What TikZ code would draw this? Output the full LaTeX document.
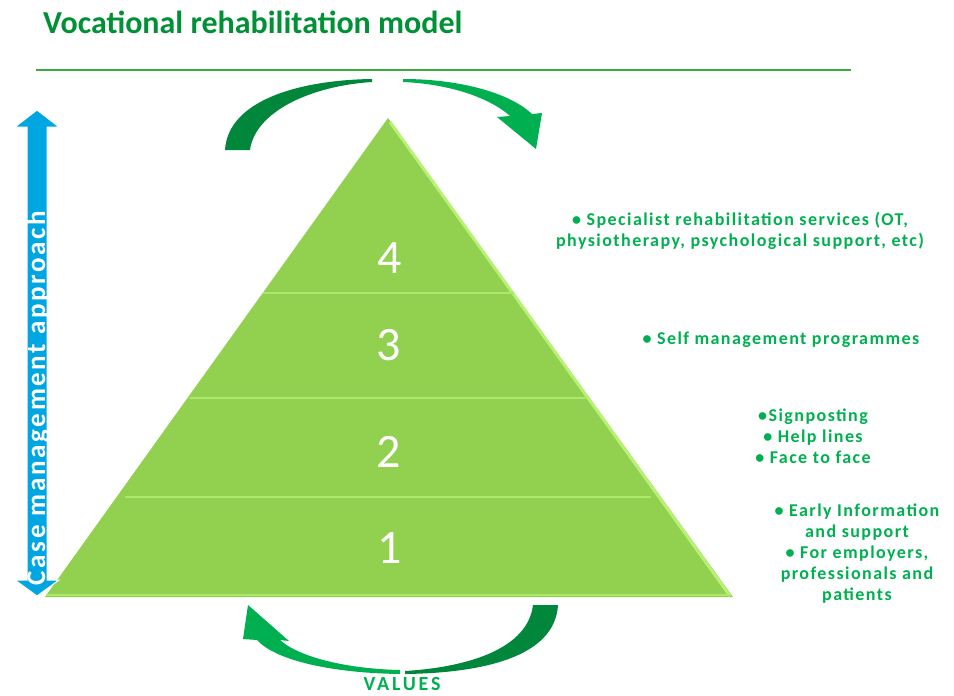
\documentclass[tikz,border=0pt]{standalone}
\usepackage{fontspec}
\setmainfont{Carlito}
\newfontfamily\notefont[LetterSpace=8]{Carlito}
\newfontfamily\casefont[LetterSpace=10]{Carlito}
\newfontfamily\valfont[LetterSpace=14]{Carlito}
\usepackage{tikz}
\usetikzlibrary{calc}
\definecolor{titlegreen}{RGB}{0,145,55}
\definecolor{rulegreen}{RGB}{60,170,60}
\definecolor{pyrgreen}{RGB}{146,208,80}
\definecolor{pyrlight}{RGB}{185,240,120}
\definecolor{arcdark}{RGB}{0,135,60}
\definecolor{arclight}{RGB}{0,176,80}
\definecolor{notegreen}{RGB}{0,176,80}
\definecolor{caseblue}{RGB}{0,166,226}
\tikzset{
  font={\fontsize{15pt}{21pt}\selectfont}}

\begin{document}
\begin{tikzpicture}[x=1pt,y=1pt]
\tikzstyle{every node}+=[inner sep=0pt]
\tikzstyle{note}=[text=notegreen, font={\notefont\bfseries\fontsize{18pt}{21pt}\selectfont}, align=center]
\tikzstyle{level}=[text=white, font={\fontsize{48pt}{50pt}\selectfont}]
\useasboundingbox (0,0) rectangle (954,-696);
\node (title) [anchor=base west, text=titlegreen, font={\bfseries\fontsize{32pt}{34pt}\selectfont}] at (43,-34) {Vocational rehabilitation model};
\draw [rulegreen, line width=1.5] (36,-70) -- (851,-70);
\coordinate (apex) at (388,-118);
\coordinate (baseL) at (45,-597);
\coordinate (baseR) at (733,-597);
\fill [pyrgreen] (apex) -- (baseR) -- (baseL) -- cycle;
\draw [pyrlight, line width=3] ($(apex)+(2,-4)$) -- ($(baseR)+(-3,1)$);
\draw [pyrlight!70!pyrgreen, line width=1.5] (263,-293) -- (514,-293);
\draw [pyrlight!70!pyrgreen, line width=1.5] (190,-398) -- (587,-398);
\draw [pyrlight!70!pyrgreen, line width=1.5] (125,-497) -- (651,-497);
\draw [pyrlight!70!pyrgreen, line width=2] (46,-595) -- (731,-595);
\node (lvl4) [level] at (390,-258) {4};
\node (lvl3) [level] at (389,-345) {3};
\node (lvl2) [level] at (389,-452) {2};
\node (lvl1) [level] at (390,-548) {1};
\fill [arcdark] (225,-150) .. controls (228,-100) and (300,-80) .. (372,-79) -- (372,-82) .. controls (310,-86) and (255,-112) .. (250,-150) -- cycle;
\fill [arclight] (403,-79) .. controls (460,-79) and (510,-93) .. (532,-114) -- (542,-113) -- (536,-149) -- (497,-117) -- (510,-116) .. controls (490,-98) and (450,-84) .. (403,-82) -- cycle;
\fill [arcdark] (558,-605) .. controls (555,-658) and (480,-673) .. (405,-674) -- (405,-671) .. controls (470,-667) and (528,-648) .. (533,-605) -- cycle;
\fill [arclight] (400,-674) .. controls (330,-673) and (275,-660) .. (257,-640) -- (243,-639) -- (248,-605) -- (289,-641) -- (280,-640) .. controls (300,-658) and (350,-669) .. (400,-670) -- cycle;
\fill [caseblue, draw=white, line width=1] (37,-110) -- (59,-127) -- (47,-127) -- (47,-580) -- (59,-580) -- (37,-596) -- (15,-580) -- (27,-580) -- (27,-127) -- (15,-127) -- cycle;
\node (case) [rotate=90, text=white, font={\casefont\bfseries\fontsize{27pt}{28pt}\selectfont}] at (38,-398) {Case management approach};
\node (values) [anchor=base, text=notegreen, font={\valfont\bfseries\fontsize{20pt}{22pt}\selectfont}] at (402,-690) {VALUES};
\node (spec) [note] at (740,-231) {\textbullet{} Specialist rehabilitation services (OT,\\physiotherapy, psychological support, etc)};
\node (self) [note] at (781,-340) {\textbullet{} Self management programmes};
\node (sign) [note] at (813,-436) {\textbullet Signposting\\\textbullet{} Help lines\\\textbullet{} Face to face};
\node (early) [note] at (857,-554) {\textbullet{} Early Information\\and support\\\textbullet{} For employers,\\professionals and\\patients};
\end{tikzpicture}
\end{document}
